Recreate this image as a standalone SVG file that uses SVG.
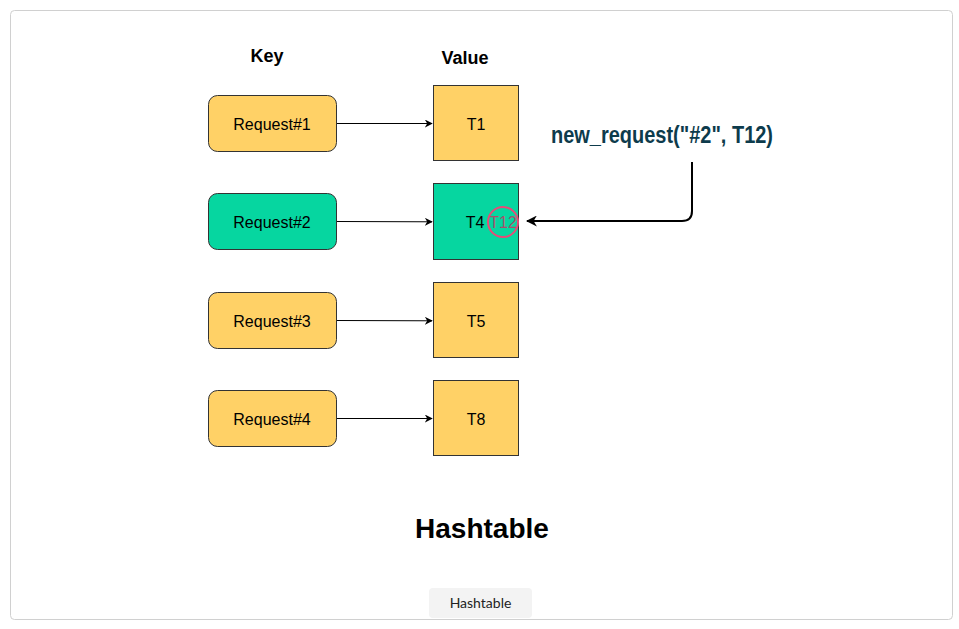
<svg xmlns="http://www.w3.org/2000/svg" width="959" height="629" viewBox="0 0 959 629">
<style>
.key{stroke:#333;stroke-width:1}
.val{stroke:#333;stroke-width:1}
.y{fill:#ffd166}
.g{fill:#06d6a0}
.t{font-family:"Liberation Sans",Arial,sans-serif;font-size:16px;fill:#000;text-anchor:middle;dominant-baseline:central}
.h{font-family:"Liberation Sans",Arial,sans-serif;font-weight:bold;fill:#000;text-anchor:middle}
.c{stroke:#000;stroke-width:1;fill:none}
</style>
<defs>
<marker id="a" viewBox="0 0 10 10" refX="9" refY="5" markerWidth="8" markerHeight="8" markerUnits="userSpaceOnUse" orient="auto"><path d="M0,0 L10,5 L0,10 L3,5 Z" fill="#000"/></marker>
<marker id="a2" viewBox="0 0 10 10" refX="9" refY="5" markerWidth="11" markerHeight="11" markerUnits="userSpaceOnUse" orient="auto"><path d="M0,0 L10,5 L0,10 L3,5 Z" fill="#000"/></marker>
</defs>
<rect x="10.5" y="10.5" width="942" height="609" rx="4" fill="#fff" stroke="#d0d0d0"/>
<text class="h" x="267" y="62" font-size="18">Key</text>
<text class="h" x="465" y="64" font-size="18">Value</text>
<g id="k1"><rect class="key y" x="208.5" y="95.5" width="128" height="56" rx="9"/><text class="t" x="272" y="124">Request#1</text></g>
<g id="k2"><rect class="key g" x="208.5" y="193.5" width="128" height="56" rx="9"/><text class="t" x="272" y="222">Request#2</text></g>
<g id="k3"><rect class="key y" x="208.5" y="292.5" width="128" height="56" rx="9"/><text class="t" x="272" y="321">Request#3</text></g>
<g id="k4"><rect class="key y" x="208.5" y="390.5" width="128" height="56" rx="9"/><text class="t" x="272" y="419">Request#4</text></g>
<g id="v1"><rect class="val y" x="433.5" y="85.5" width="85" height="75"/><text class="t" x="476" y="124">T1</text></g>
<g id="v2"><rect class="val g" x="433.5" y="183.5" width="85" height="76"/><text class="t" x="475" y="222">T4</text><text class="t" x="503" y="222" style="fill:#a8506c">T12</text><circle cx="503" cy="222" r="15" fill="none" stroke="#e84a78" stroke-width="2"/></g>
<g id="v3"><rect class="val y" x="433.5" y="282.5" width="85" height="75"/><text class="t" x="476" y="321">T5</text></g>
<g id="v4"><rect class="val y" x="433.5" y="380.5" width="85" height="75"/><text class="t" x="476" y="419">T8</text></g>
<g id="req"><text x="662" y="143" font-family="'Liberation Sans Narrow','Liberation Sans',Arial,sans-serif" font-weight="bold" font-size="23" fill="#0d3b4c" text-anchor="middle" textLength="222" lengthAdjust="spacingAndGlyphs">new_request("#2", T12)</text></g>
<g id="connectors">
<path class="c" d="M337,123.5 L432,123.5" marker-end="url(#a)"/>
<path class="c" d="M337,221.5 L432,221.8" marker-end="url(#a)"/>
<path class="c" d="M337,320.5 L432,320.8" marker-end="url(#a)"/>
<path class="c" d="M337,418.5 L432,418.5" marker-end="url(#a)"/>
<path d="M692,162 L692,211 Q692,221 682,221 L527,221" fill="none" stroke="#000" stroke-width="2" marker-end="url(#a2)"/>
</g>
<text class="h" x="482" y="538" font-size="28">Hashtable</text>
<g id="caption"><rect x="429" y="588" width="103" height="30" rx="4" fill="#f3f3f3"/><text x="480.5" y="608" font-family="Lato,'Open Sans',sans-serif" font-size="14" fill="#222" text-anchor="middle">Hashtable</text></g>
</svg>
